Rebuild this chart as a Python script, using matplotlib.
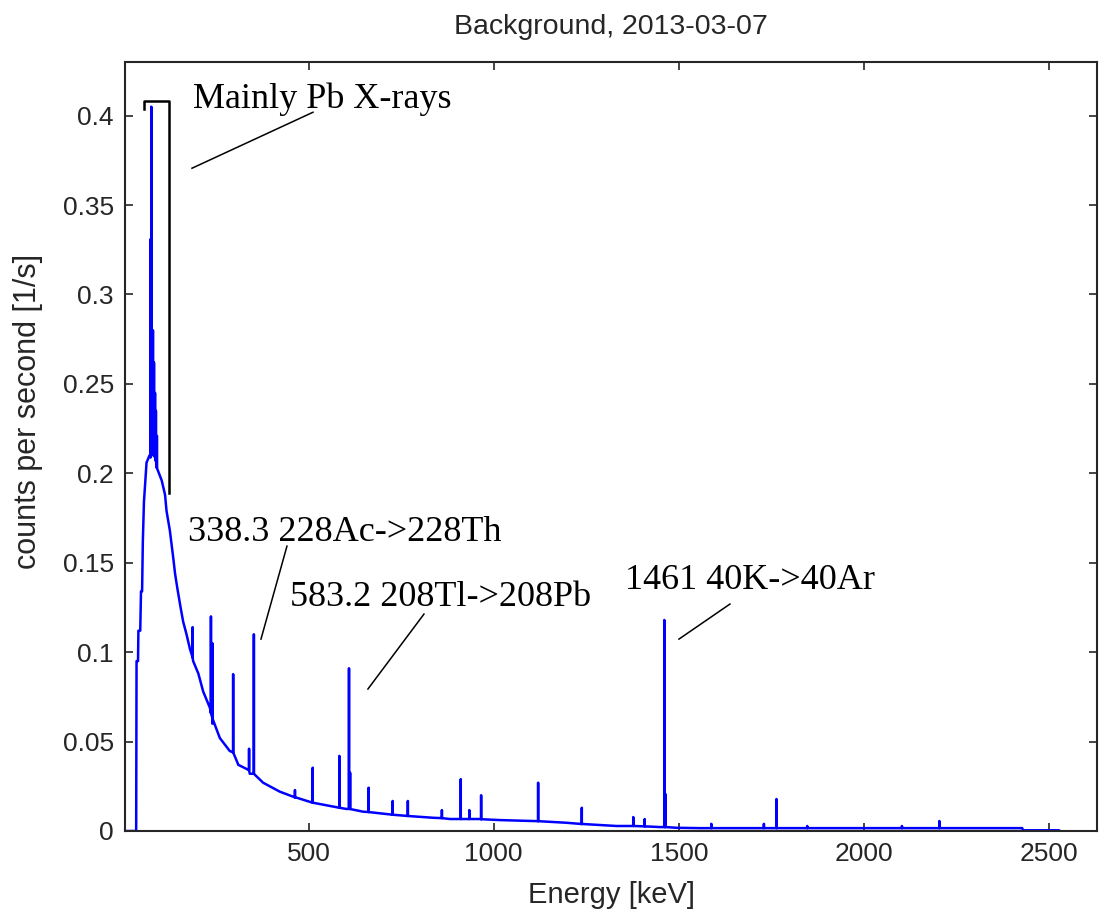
"""
Background gamma spectrum, 2013-03-07 (MATLAB-style plot).
"""

import matplotlib
matplotlib.use("Agg")
import matplotlib.pyplot as plt

# ---------------------------------------------------------------------------
# data
# ---------------------------------------------------------------------------
# smooth continuum (keV, counts per second)
cont_energy = [4, 34, 35, 39, 40, 45, 47, 50, 52, 55, 62, 70, 80, 90, 103, 112,
               116, 125, 134, 139, 145, 154, 161, 170, 179, 188, 202, 215, 233,
               240, 260, 287, 310, 341, 377, 422, 468, 512, 558, 603, 647, 693,
               765, 836, 882, 963, 1017, 1106, 1197, 1241, 1332, 1449, 1494,
               1557, 2428, 2430, 2527, 2530]
cont_counts = [0, 0, 0.095, 0.095, 0.112, 0.112, 0.134, 0.134, 0.162, 0.184,
               0.206, 0.210, 0.2115, 0.205, 0.196, 0.188, 0.179, 0.168, 0.153,
               0.144, 0.136, 0.125, 0.117, 0.110, 0.102, 0.095, 0.088, 0.078,
               0.069, 0.060, 0.052, 0.0447, 0.037, 0.032, 0.027, 0.022, 0.0186,
               0.0158, 0.014, 0.0123, 0.0108, 0.0099, 0.0084, 0.0074, 0.0067,
               0.0067, 0.0061, 0.0056, 0.0046, 0.0039, 0.0028, 0.0022, 0.0018,
               0.0016, 0.0016, 0.0004, 0.0004, 0]

# single-channel lines: energy, top, continuum level under the line
peak_energy = [72.8, 75.0, 77.1, 79.3, 82.1, 84.9, 87.3, 90, 186.5, 236, 240,
               296, 339, 352, 463, 511, 583, 609, 612, 662, 727, 768, 860, 911,
               934, 966, 1120, 1238, 1377, 1408, 1461, 1464, 1588, 1730, 1764,
               1847, 2103, 2204]
peak_top = [0.331, 0.405, 0.260, 0.280, 0.262, 0.245, 0.235, 0.221, 0.114,
            0.120, 0.105, 0.0877, 0.046, 0.110, 0.0229, 0.0354, 0.042, 0.091,
            0.0326, 0.0242, 0.0168, 0.0168, 0.0117, 0.029, 0.0117, 0.020,
            0.027, 0.013, 0.0078, 0.0067, 0.118, 0.0207, 0.004, 0.004, 0.0179,
            0.0028, 0.0028, 0.0056]
peak_base = [0.209, 0.210, 0.211, 0.2115, 0.211, 0.209, 0.207, 0.203, 0.097,
             0.066, 0.063, 0.044, 0.034, 0.032, 0.0188, 0.0158, 0.013, 0.0124,
             0.0123, 0.0106, 0.0091, 0.0084, 0.0072, 0.0067, 0.0067, 0.0066,
             0.0055, 0.0039, 0.0028, 0.0026, 0.0022, 0.0022, 0.0016, 0.0016,
             0.0016, 0.0016, 0.0016, 0.0016]

x_ticks = [500, 1000, 1500, 2000, 2500]
y_ticks = [0, 0.05, 0.1, 0.15, 0.2, 0.25, 0.3, 0.35, 0.4]
y_tick_labels = ["0", "0.05", "0.1", "0.15", "0.2", "0.25", "0.3", "0.35", "0.4"]

# merge continuum and lines into one channel trace
pts = list(zip(cont_energy, cont_counts))
for e, top, base in zip(peak_energy, peak_top, peak_base):
    pts += [(e - 0.01, base), (e, top), (e + 0.01, base)]
pts.sort(key=lambda p: p[0])
energy = [p[0] for p in pts]
counts = [p[1] for p in pts]

# ---------------------------------------------------------------------------
# figure
# ---------------------------------------------------------------------------
plt.rcParams["font.family"] = "Liberation Sans"
fig = plt.figure(figsize=(11, 9.18), dpi=100)
ax = fig.add_axes([125 / 1100, 1 - 831 / 918, (1097 - 125) / 1100, (831 - 62) / 918])

ax.plot(energy, counts, color="#0000ff", linewidth=1.8)

ax.set_xlim(3.8, 2630)
ax.set_ylim(0, 0.43)
ax.set_xticks(x_ticks)
ax.set_yticks(y_ticks)
ax.set_yticklabels(y_tick_labels)
ax.tick_params(direction="in", length=6, width=1.2, top=True, right=True,
               labelsize=19, colors="#262626", pad=8)
for s in ax.spines.values():
    s.set_linewidth(1.5)
    s.set_color("#262626")

ax.set_title("Background, 2013-03-07", fontsize=20.5, color="#262626", pad=20)
ax.set_xlabel("Energy [keV]", fontsize=21, color="#262626", labelpad=11)
ax.set_ylabel("counts per second [1/s]", fontsize=22, color="#262626")
ax.yaxis.set_label_coords(-0.084, 0.545)

# bracket around the Pb X-ray region
ax.plot([54.8, 54.8, 122.4, 122.4], [0.4036, 0.408, 0.408, 0.1889],
        color="black", linewidth=1.8)

serif = dict(family="Liberation Serif", fontsize=26, color="black")
ax.text(188, 0.4041, "Mainly Pb X-rays", **serif)
ax.plot([511.7, 184.8], [0.4019, 0.3706], color="black", linewidth=1.1)

ax.text(175, 0.1621, "338.3 228Ac->228Th", **serif)
ax.plot([441.4, 371.2], [0.1593, 0.1073], color="black", linewidth=1.1)

ax.text(449.6, 0.1258, "583.2 208Tl->208Pb", **serif)
ax.plot([811.6, 660.2], [0.1213, 0.0794], color="black", linewidth=1.1)

ax.text(1354.7, 0.1353, "1461 40K->40Ar", **serif)
ax.plot([1638.3, 1500.5], [0.1269, 0.1073], color="black", linewidth=1.1)

fig.savefig("out.png", dpi=100)
